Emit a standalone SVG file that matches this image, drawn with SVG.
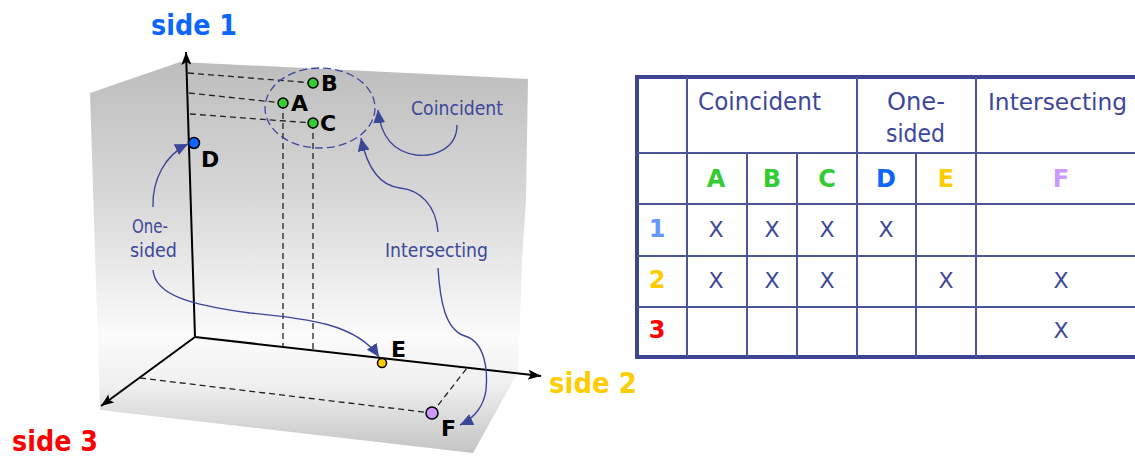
<svg xmlns="http://www.w3.org/2000/svg" width="1135" height="456" viewBox="0 0 1135 456">
<style>
.ax{stroke:#000;stroke-width:2;fill:none}
.dash{stroke:#222;stroke-width:1.3;stroke-dasharray:6,4;fill:none}
.cv{stroke:#3d4799;stroke-width:1.4;fill:none}
.lbl{font-family:"DejaVu Sans",Verdana,sans-serif;font-size:19px;fill:#3d4799}
.pt{font-family:"DejaVu Sans",Verdana,sans-serif;font-size:22px;font-weight:bold;fill:#000}
.side{font-family:"DejaVu Sans",Verdana,sans-serif;font-size:29px;font-weight:bold}
.th{font-family:"DejaVu Sans",Verdana,sans-serif;font-size:25px;fill:#3d4799}
.tl{font-family:"DejaVu Sans",Verdana,sans-serif;font-size:24px;font-weight:bold;text-anchor:middle}
.x{font-family:"DejaVu Sans",Verdana,sans-serif;font-size:22px;fill:#3d4799;text-anchor:middle}
.tg{stroke:#4d5599;stroke-width:2;fill:none}
.dot{stroke:#000;stroke-width:1.5}
</style>
<defs>
<linearGradient id="bg" gradientUnits="userSpaceOnUse" x1="0" y1="62" x2="0" y2="455">
<stop offset="0" stop-color="#bdbdbd"/>
<stop offset="0.35" stop-color="#d8d8d8"/>
<stop offset="0.7" stop-color="#fbfbfb"/>
<stop offset="0.82" stop-color="#f0f0f0"/>
<stop offset="1" stop-color="#c2c2c2"/>
</linearGradient>
<marker id="ah" markerUnits="userSpaceOnUse" markerWidth="14" markerHeight="12" refX="13" refY="6" orient="auto">
<path d="M0,0 L13,6 L0,12 z" fill="#3d4799"/>
</marker>
<marker id="ak" markerUnits="userSpaceOnUse" markerWidth="14" markerHeight="10" refX="13" refY="5" orient="auto">
<path d="M0,0 L13,5 L0,10 L3,5 z" fill="#000"/>
</marker>
</defs>
<g id="background">
<polygon points="90,93 180,62 528,79 526,200 522,260 520,320 518,372 473,453 100,410" fill="url(#bg)"/>
</g>
<g id="connectors">
<line class="ax" x1="195" y1="337" x2="186" y2="52" marker-end="url(#ak)"/>
<line class="ax" x1="195" y1="337" x2="541" y2="376" marker-end="url(#ak)"/>
<line class="ax" x1="195" y1="337" x2="101" y2="406" marker-end="url(#ak)"/>
<line class="dash" x1="188" y1="73" x2="313" y2="83"/>
<line class="dash" x1="189" y1="93" x2="283" y2="103"/>
<line class="dash" x1="190" y1="114" x2="313" y2="123"/>
<line class="dash" x1="283" y1="103" x2="283" y2="347"/>
<line class="dash" x1="313" y1="123" x2="313" y2="353"/>
<line class="dash" x1="140" y1="378" x2="432" y2="413"/>
<line class="dash" x1="432" y1="413" x2="467" y2="368"/>
<ellipse cx="320" cy="108" rx="55" ry="40" fill="none" stroke="#3d4799" stroke-width="1.3" stroke-dasharray="8,4"/>
<path class="cv" d="M457,125 C457,150 432,157 416,155 C396,152 381,140 378,110" marker-end="url(#ah)"/>
<path class="cv" d="M438,232 C436,205 420,190 400,188 C383,186 368,172 361,138" marker-end="url(#ah)"/>
<path class="cv" d="M438,268 C440,300 445,330 465,336 C485,342 488,370 486,390 C484,405 475,418 460,425" marker-end="url(#ah)"/>
<path class="cv" d="M153,207 C152,180 165,155 188,144" marker-end="url(#ah)"/>
<path class="cv" d="M153,270 C155,295 190,305 250,313 C300,318 355,322 379,357" marker-end="url(#ah)"/>
</g>
<g id="labels">
<text class="side" x="151" y="35" fill="#0a66ff" textLength="86" lengthAdjust="spacingAndGlyphs">side 1</text>
<text class="side" x="549" y="393" fill="#ffcc00" textLength="88" lengthAdjust="spacingAndGlyphs">side 2</text>
<text class="side" x="12" y="451" fill="#ff0000" textLength="86" lengthAdjust="spacingAndGlyphs">side 3</text>
<text class="lbl" x="411" y="115" textLength="92" lengthAdjust="spacingAndGlyphs">Coincident</text>
<text class="lbl" x="385" y="257" textLength="103" lengthAdjust="spacingAndGlyphs">Intersecting</text>
<text class="lbl" x="132" y="233" textLength="36" lengthAdjust="spacingAndGlyphs">One-</text>
<text class="lbl" x="130" y="257" textLength="47" lengthAdjust="spacingAndGlyphs">sided</text>
</g>
<g id="pointA"><circle class="dot" cx="283" cy="103" r="5" fill="#33cc33"/><text class="pt" x="291" y="111">A</text></g>
<g id="pointB"><circle class="dot" cx="313" cy="83" r="5" fill="#33cc33"/><text class="pt" x="321" y="91">B</text></g>
<g id="pointC"><circle class="dot" cx="313" cy="123" r="5" fill="#33cc33"/><text class="pt" x="320" y="131">C</text></g>
<g id="pointD"><circle class="dot" cx="194" cy="143" r="5.5" fill="#0a66ff"/><text class="pt" x="201" y="167">D</text></g>
<g id="pointE"><circle class="dot" cx="382" cy="363" r="4.5" fill="#ffcc00"/><text class="pt" x="391" y="357">E</text></g>
<g id="pointF"><circle class="dot" cx="432" cy="413" r="6" fill="#cc99ff"/><text class="pt" x="441" y="436">F</text></g>
<g id="table">
<rect x="637" y="77" width="498" height="280" fill="#fff"/>
<path d="M1135,77 H637 V357 H1135" fill="none" stroke="#3d4590" stroke-width="4"/>
<line class="tg" x1="687" y1="77" x2="687" y2="357"/>
<line class="tg" x1="857" y1="77" x2="857" y2="357"/>
<line class="tg" x1="976" y1="77" x2="976" y2="357"/>
<line class="tg" x1="747" y1="153" x2="747" y2="357"/>
<line class="tg" x1="797" y1="153" x2="797" y2="357"/>
<line class="tg" x1="916" y1="153" x2="916" y2="357"/>
<line class="tg" x1="637" y1="153" x2="1135" y2="153"/>
<line class="tg" x1="637" y1="204" x2="1135" y2="204"/>
<line class="tg" x1="637" y1="256" x2="1135" y2="256"/>
<line class="tg" x1="637" y1="307" x2="1135" y2="307"/>
<text class="th" x="698" y="110" textLength="123" lengthAdjust="spacingAndGlyphs">Coincident</text>
<text class="th" x="887" y="110" textLength="58" lengthAdjust="spacingAndGlyphs">One-</text>
<text class="th" x="886" y="142" textLength="59" lengthAdjust="spacingAndGlyphs">sided</text>
<text class="th" x="988" y="110" style="font-size:23.3px">Intersecting</text>
<text class="tl" x="716" y="187" fill="#33cc33">A</text>
<text class="tl" x="772" y="187" fill="#33cc33">B</text>
<text class="tl" x="827" y="187" fill="#33cc33">C</text>
<text class="tl" x="886" y="187" fill="#0a66ff">D</text>
<text class="tl" x="946" y="187" fill="#ffcc00">E</text>
<text class="tl" x="1061" y="187" fill="#cc99ff">F</text>
<text class="tl" x="657" y="237" fill="#6699ff">1</text>
<text class="tl" x="657" y="288" fill="#ffcc00">2</text>
<text class="tl" x="657" y="338" fill="#ff0000">3</text>
<text class="x" x="716" y="237">X</text>
<text class="x" x="772" y="237">X</text>
<text class="x" x="827" y="237">X</text>
<text class="x" x="886" y="237">X</text>
<text class="x" x="716" y="288">X</text>
<text class="x" x="772" y="288">X</text>
<text class="x" x="827" y="288">X</text>
<text class="x" x="946" y="288">X</text>
<text class="x" x="1061" y="288">X</text>
<text class="x" x="1061" y="338">X</text>
</g>
</svg>
